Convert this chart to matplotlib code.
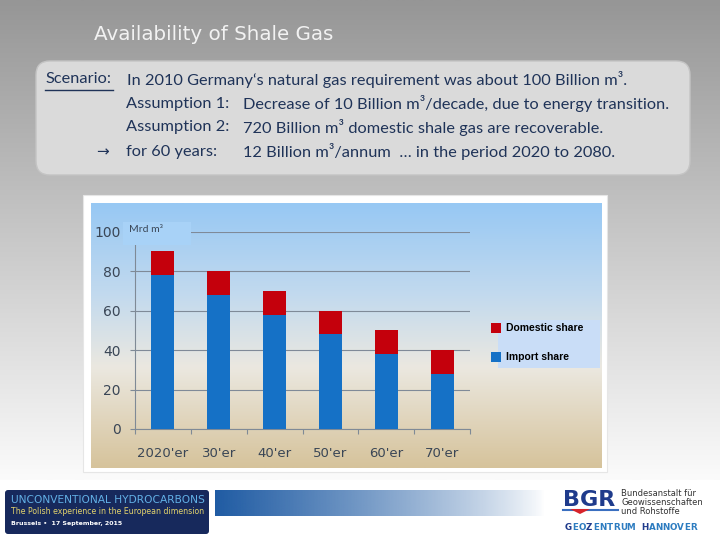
import numpy as np
import matplotlib
matplotlib.use("Agg")
import matplotlib.pyplot as plt
from matplotlib.patches import Rectangle, FancyBboxPatch, Polygon
from matplotlib.colors import to_rgb

# data (Mrd m³ per decade)
decades = ["2020'er", "30'er", "40'er", "50'er", "60'er", "70'er"]
import_share = [78, 68, 58, 48, 38, 28]
domestic_share = [12, 12, 12, 12, 12, 12]
y_ticks = [0, 20, 40, 60, 80, 100]

scenario_lines = [
    ("In 2010 Germany\u2018s natural gas requirement was about 100 Billion m\u00b3.", ""),
    ("Assumption 1:", "Decrease of 10 Billion m\u00b3/decade, due to energy transition."),
    ("Assumption 2:", "720 Billion m\u00b3 domestic shale gas are recoverable."),
    ("for 60 years:", "12 Billion m\u00b3/annum  \u2026 in the period 2020 to 2080."),
]

TEXT_FONT = ["Lato", "DejaVu Sans"]
TS = 11.8


def vgradient(stops, n=256):
    pos = np.array([s[0] for s in stops])
    cols = np.array([to_rgb(s[1]) for s in stops])
    t = np.linspace(0, 1, n)
    arr = np.stack([np.interp(t, pos, cols[:, k]) for k in range(3)], axis=-1)
    return arr[:, None, :]


fig = plt.figure(figsize=(7.2, 5.4), dpi=100)

# background layer in pixel coordinates
bg = fig.add_axes([0, 0, 1, 1], zorder=0)
bg.set_xlim(0, 720)
bg.set_ylim(540, 0)
bg.axis("off")
bg.imshow(vgradient([(0, "#969696"), (1, "#fbfbfb")]), extent=(0, 720, 480, 0),
          aspect="auto", zorder=0)
bg.add_patch(Rectangle((0, 480), 720, 60, facecolor="white", edgecolor="none", zorder=1))

# title
bg.text(94, 34, "Availability of Shale Gas", color="#f2f2f2", fontsize=14.3,
        va="center", ha="left", family="DejaVu Sans")

# scenario box
bg.add_patch(FancyBboxPatch((39, 64), 648, 108, boxstyle="round,pad=3,rounding_size=14",
                            facecolor="#dadada", edgecolor="#c4c4c4", lw=1, zorder=1))
tc = "#1f3358"
rows_y = [79, 104, 127, 152]
bg.text(45, rows_y[0], "Scenario:", color=tc, fontsize=TS, va="center", family=TEXT_FONT)
bg.plot([45, 113], [89.5, 89.5], color=tc, lw=1)
bg.text(127, rows_y[0], scenario_lines[0][0], color=tc, fontsize=TS, va="center",
        family=TEXT_FONT)
for (lbl, txt), yy in zip(scenario_lines[1:], rows_y[1:]):
    bg.text(126, yy, lbl, color=tc, fontsize=TS, va="center", family=TEXT_FONT)
    bg.text(243, yy, txt, color=tc, fontsize=TS, va="center", family=TEXT_FONT)
bg.text(96, rows_y[3], "\u2192", color=tc, fontsize=11, va="center", family="DejaVu Sans")

# chart panel
bg.add_patch(Rectangle((83, 195), 524, 277, facecolor="white", edgecolor="#e6e6e6",
                       lw=0.8, zorder=1))
bg.imshow(vgradient([(0.0, "#97c8f4"), (0.35, "#c3daee"), (0.62, "#ebe8e0"),
                     (1.0, "#d6c39b")]),
          extent=(91, 602, 468, 203), aspect="auto", zorder=2)

# footer: left banner
bg.add_patch(FancyBboxPatch((7, 492), 200, 40, boxstyle="round,pad=2,rounding_size=3",
                            facecolor="#17295c", edgecolor="none", zorder=2))
bg.text(11, 500, "UNCONVENTIONAL HYDROCARBONS", color="#62b0e6", fontsize=7.7,
        va="center", family="DejaVu Sans", zorder=3)
bg.text(11, 512, "The Polish experience in the European dimension", color="#e3d36c",
        fontsize=5.6, va="center", family="DejaVu Sans", zorder=3)
bg.text(11, 523, "Brussels \u2022  17 September, 2015", color="white", fontsize=4.5,
        va="center", family="DejaVu Sans", fontweight="bold", zorder=3)

# footer: blue fade bar
grad = np.linspace(0, 1, 256)
fade = np.zeros((1, 256, 4))
fade[..., :3] = to_rgb("#1f5ba3")
fade[..., 3] = (1 - grad) ** 0.8
bg.imshow(fade, extent=(215, 545, 516, 490), aspect="auto", zorder=2)

# footer: BGR logo
bg.text(563, 500, "BGR", color="#1f3b8c", fontsize=16, fontweight="bold", va="center",
        family="DejaVu Sans", zorder=3)
bg.plot([563, 618], [509.5, 509.5], color="#3a6fc0", lw=1.5, zorder=3)
bg.add_patch(Polygon([[570, 509], [590, 509], [580, 514]], closed=True,
                     facecolor="#d8232a", edgecolor="none", zorder=3))
for i, line in enumerate(["Bundesanstalt f\u00fcr", "Geowissenschaften", "und Rohstoffe"]):
    bg.text(621, 493 + i * 9.5, line, color="#333333", fontsize=6, va="center",
            family="DejaVu Sans", zorder=3)
for i, ch in enumerate("GEOZENTRUM HANNOVER"):
    col = "#1f3b8c" if i in (0, 3, 11) else "#2d7cc0"
    bg.text(568 + i * 7.0, 528, ch, color=col, fontsize=6.3, fontweight="bold",
            va="center", ha="center", family="DejaVu Sans", zorder=3)

# data axes
ax = fig.add_axes([135 / 720, (540 - 429) / 540, 335 / 720, (429 - 231.7) / 540], zorder=2)
ax.patch.set_visible(False)
x = np.arange(len(decades))
ax.bar(x, import_share, width=0.41, color="#1571c6", zorder=3, label="Import share")
ax.bar(x, domestic_share, width=0.41, bottom=import_share, color="#c4000c", zorder=3,
       label="Domestic share")
ax.set_xlim(-0.5, len(decades) - 0.5)
ax.set_ylim(0, 100)
ax.set_yticks(y_ticks)
ax.set_yticklabels([str(v) for v in y_ticks], color="#3a4656", fontsize=10)
ax.tick_params(axis="y", length=3.6, width=0.8, color="#7f8a96", pad=6.5)
ax.set_xticks(np.arange(-0.5, len(decades), 1.0))
ax.set_xticklabels([""] * (len(decades) + 1))
ax.set_xticks(x, minor=True)
ax.set_xticklabels(decades, minor=True, color="#3a4656", fontsize=9.5)
ax.tick_params(axis="x", which="major", length=3.6, width=0.8, color="#7f8a96", direction="out")
ax.tick_params(axis="x", which="minor", length=0, pad=13)
ax.yaxis.grid(True, color="#7f8a98", lw=0.8, zorder=1)
ax.set_axisbelow(True)
for s in ["top", "right"]:
    ax.spines[s].set_visible(False)
for s in ["left", "bottom"]:
    ax.spines[s].set_color("#7f8a96")
    ax.spines[s].set_linewidth(0.8)

# foreground: unit label and legend
fg = fig.add_axes([0, 0, 1, 1], zorder=4)
fg.set_xlim(0, 720)
fg.set_ylim(540, 0)
fg.axis("off")
fg.add_patch(Rectangle((123, 222), 68, 23, facecolor="#a8d2f7", edgecolor="none"))
fg.text(129, 229, "Mrd m\u00b3", color="#3a4656", fontsize=7.5, va="center",
        family=TEXT_FONT)
fg.add_patch(Rectangle((498, 320), 102, 48, facecolor="#c9ddf7", edgecolor="none"))
fg.add_patch(Rectangle((491, 323), 10, 10, facecolor="#c4000c", edgecolor="none"))
fg.add_patch(Rectangle((491, 352), 10, 10, facecolor="#1571c6", edgecolor="none"))
fg.text(506, 328, "Domestic share", fontsize=7.5, fontweight="bold", va="center",
        family="Liberation Sans")
fg.text(506, 357, "Import share", fontsize=7.5, fontweight="bold", va="center",
        family="Liberation Sans")

fig.savefig("out.png", dpi=100)
